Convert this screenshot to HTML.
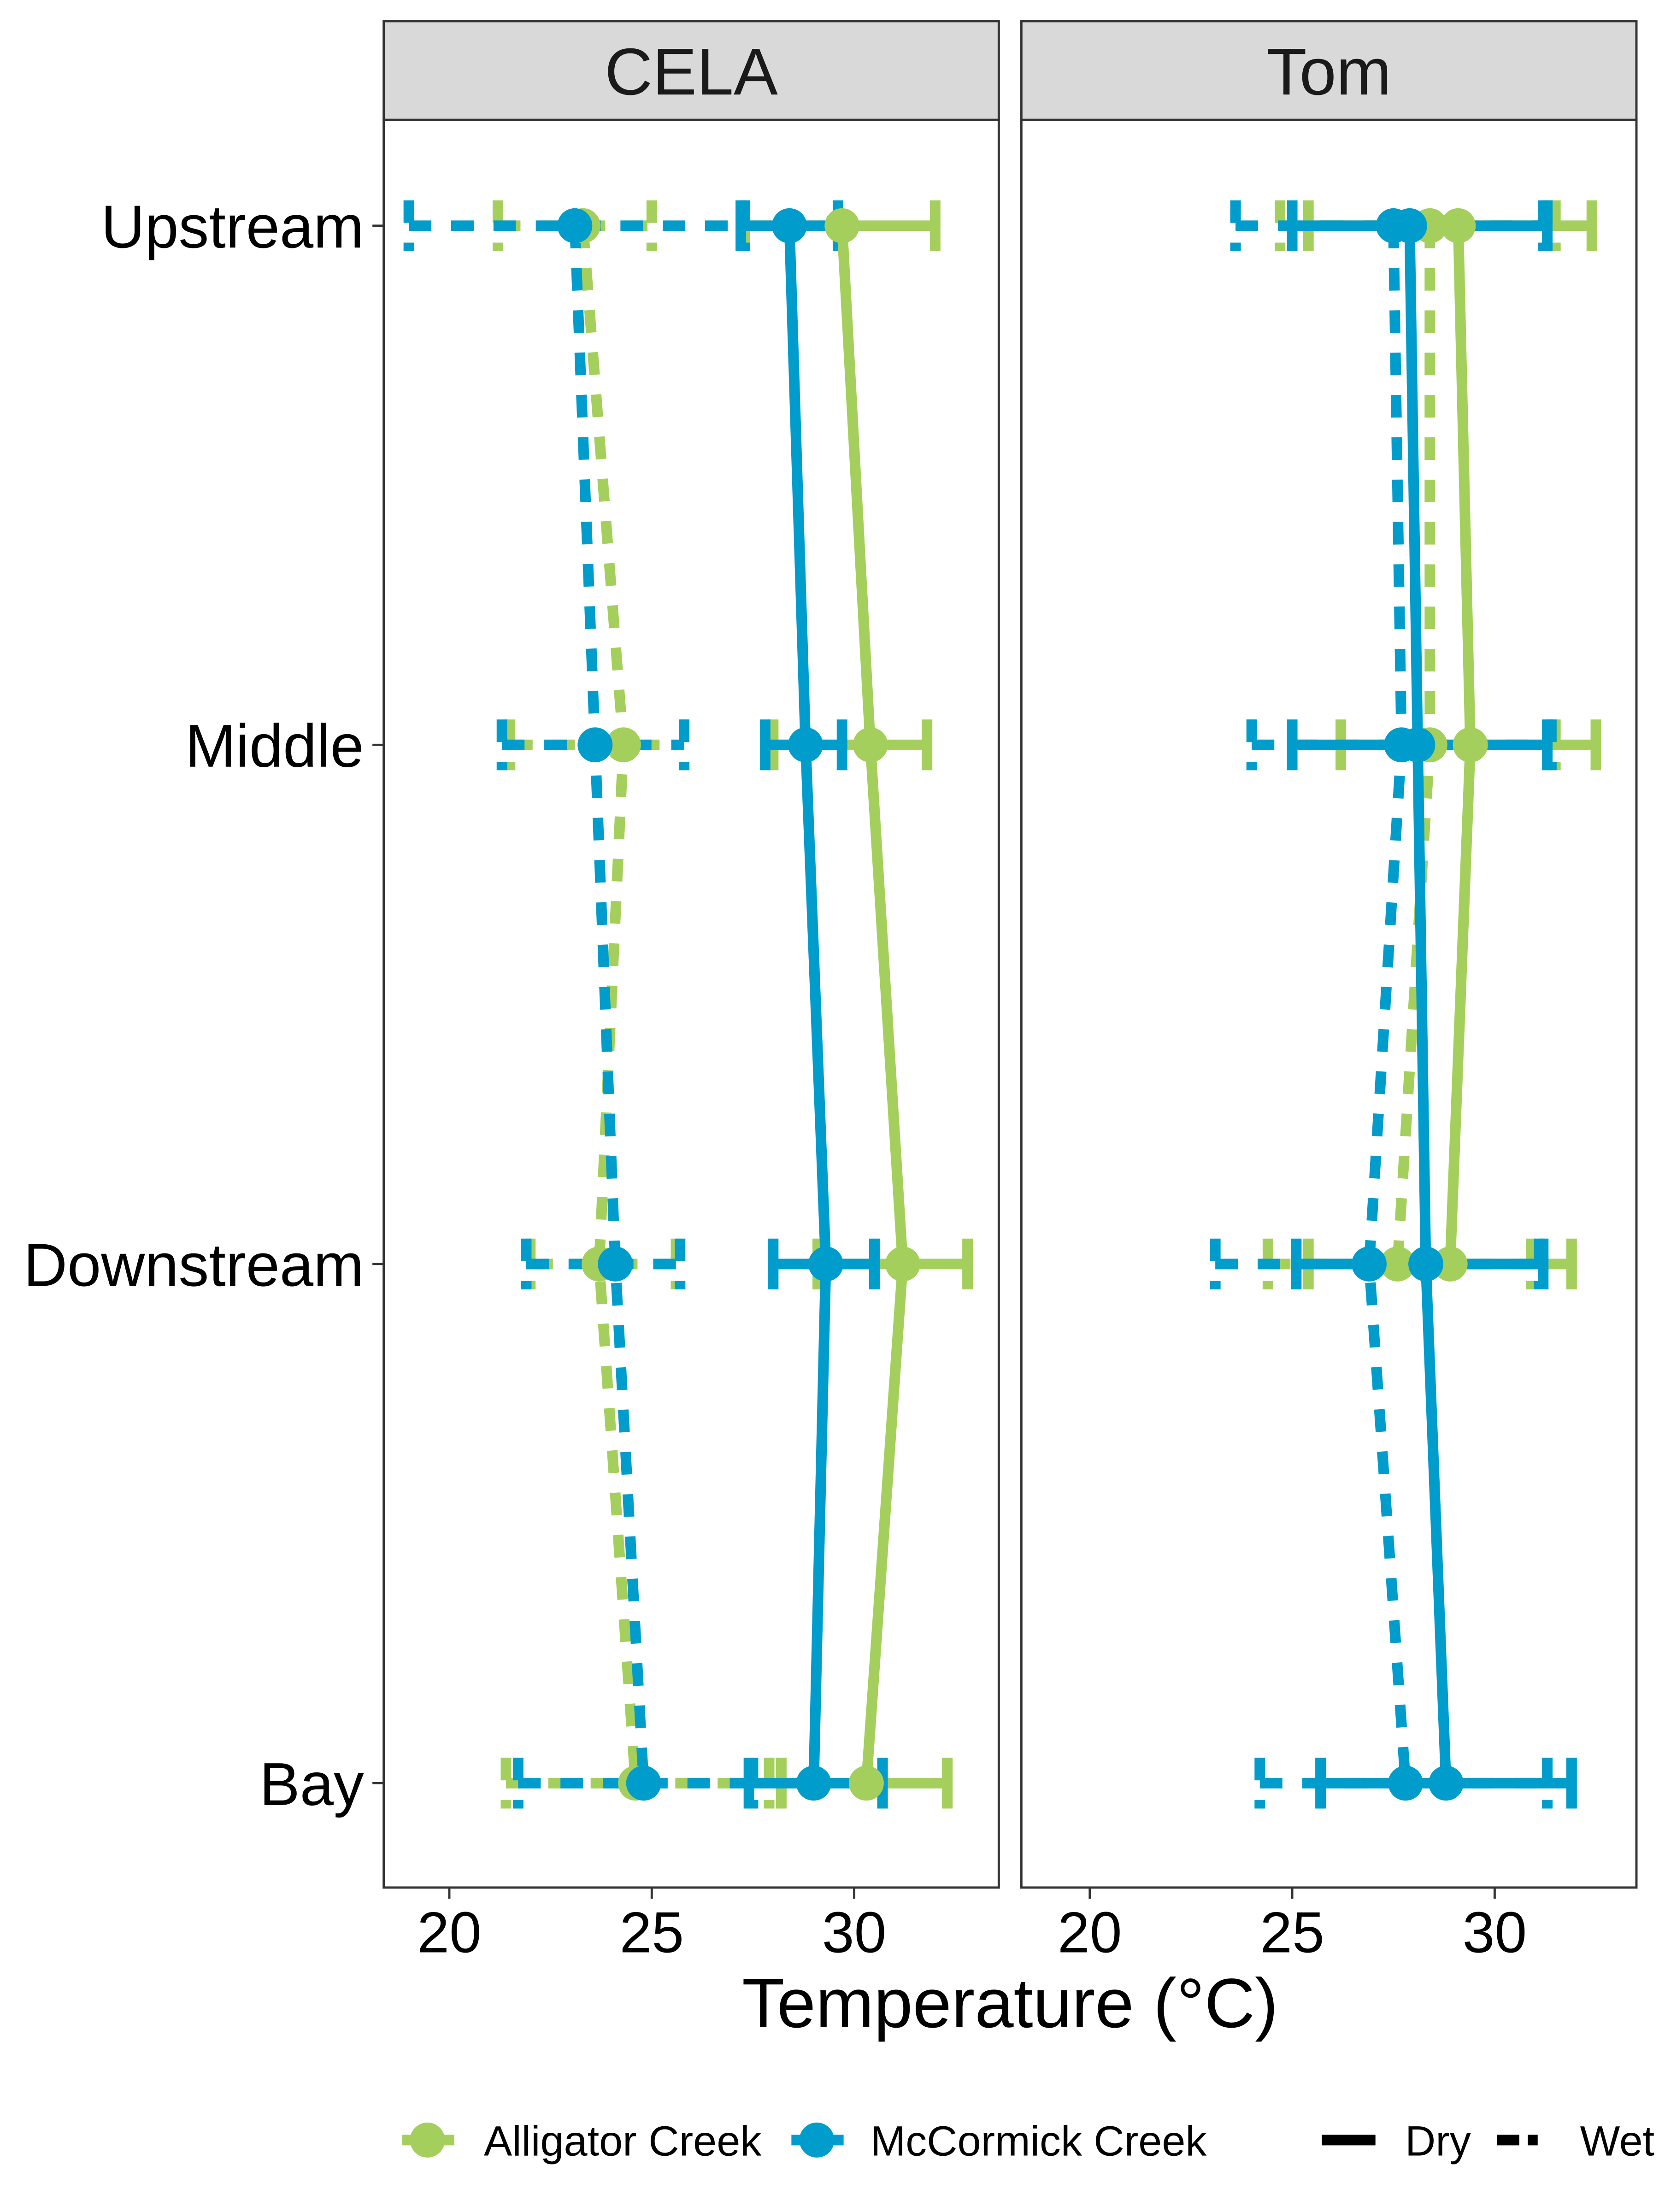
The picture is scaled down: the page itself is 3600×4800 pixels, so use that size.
<!DOCTYPE html>
<html><head><meta charset="utf-8"><style>
html,body{margin:0;padding:0;background:#fff;}
svg{display:block;}
text{font-family:"Liberation Sans",sans-serif;}
</style></head><body>
<svg id="chart" width="3600" height="4800" viewBox="0 0 1176 1568" preserveAspectRatio="none" xmlns="http://www.w3.org/2000/svg">
<rect x="0" y="0" width="1176" height="1568" fill="#fff"/>
<g id="panels"></g>
<text x="716" y="1437" font-size="49.5" text-anchor="middle" fill="#000">Temperature (°C)</text>
<g>
  <line x1="285" y1="1517" x2="322" y2="1517" stroke="#a5cf5c" stroke-width="7.5"/>
  <circle cx="303" cy="1517" r="12.4" fill="#a5cf5c"/>
  <text x="343" y="1528" font-size="30">Alligator Creek</text>
  <line x1="561" y1="1517" x2="598" y2="1517" stroke="#009ccc" stroke-width="7.5"/>
  <circle cx="579" cy="1517" r="12.4" fill="#009ccc"/>
  <text x="617" y="1528" font-size="30">McCormick Creek</text>
  <line x1="937" y1="1517" x2="975" y2="1517" stroke="#000" stroke-width="7.5"/>
  <text x="996" y="1528" font-size="30">Dry</text>
  <line x1="1061" y1="1517" x2="1090" y2="1517" stroke="#000" stroke-width="7.5" stroke-dasharray="16 6"/>
  <text x="1120" y="1528" font-size="30">Wet</text>
</g>
</svg>
<script>
const sites = ["Upstream","Middle","Downstream","Bay"];
const facets = ["CELA","Tom"];
const xTicks = [20,25,30];
// CELA series: mean, low, high per site (null = missing)
const celaAllDryMean = [29.7,30.4,31.2,30.3];
const celaAllDryLow  = [27.3,28.0,29.1,28.2];
const celaAllDryHigh = [32.0,31.8,32.8,32.3];
const celaAllWetMean = [23.3,24.3,23.7,24.6];
const celaAllWetLow  = [21.2,21.5,22.0,21.4];
const celaAllWetHigh = [25.0,25.8,25.6,27.9];
const celaMcDryMean  = [28.4,28.8,29.3,29.0];
const celaMcDryLow   = [27.2,27.8,28.0,27.4];
const celaMcDryHigh  = [29.6,29.7,30.5,30.7];
const celaMcWetMean  = [23.1,23.6,24.1,24.8];
const celaMcWetLow   = [19.0,21.3,21.9,21.7];
const celaMcWetHigh  = [27.3,25.8,25.7,27.5];
// Tom series
const tomAllDryMean = [29.1,29.4,28.9,null];
const tomAllDryLow  = [25.4,26.2,25.4,null];
const tomAllDryHigh = [32.4,32.5,31.9,null];
const tomAllWetMean = [28.4,28.4,27.6,null];
const tomAllWetLow  = [24.7,24.0,24.4,null];
const tomAllWetHigh = [31.5,31.5,30.9,null];
const tomMcDryMean  = [27.9,28.1,28.3,28.8];
const tomMcDryLow   = [25.0,25.0,25.1,25.7];
const tomMcDryHigh  = [31.3,31.3,31.2,31.9];
const tomMcWetMean  = [27.5,27.7,26.9,27.8];
const tomMcWetLow   = [23.6,24.0,23.1,24.2];
const tomMcWetHigh  = [31.2,31.4,31.1,31.3];

const NS="http://www.w3.org/2000/svg";
const GREEN="#a5cf5c", BLUE="#009ccc";
const panelX=[272,724], panelW=436, panelTop=85, panelBot=1338, stripTop=15;
function xScale(p,v){ const o=[318.5,772.5][p]; return o+(v-20)*28.7; }
function yScale(i){ return 160+i*368; }
function mk(tag,attrs,parent){const e=document.createElementNS(NS,tag);for(const k in attrs)e.setAttribute(k,attrs[k]);parent.appendChild(e);return e;}
const root=document.getElementById('panels');
const seriesByFacet=[
 [{n:"alligator-dry",c:GREEN,w:false,m:celaAllDryMean,l:celaAllDryLow,h:celaAllDryHigh},
  {n:"alligator-wet",c:GREEN,w:true,m:celaAllWetMean,l:celaAllWetLow,h:celaAllWetHigh},
  {n:"mccormick-dry",c:BLUE,w:false,m:celaMcDryMean,l:celaMcDryLow,h:celaMcDryHigh},
  {n:"mccormick-wet",c:BLUE,w:true,m:celaMcWetMean,l:celaMcWetLow,h:celaMcWetHigh}],
 [{n:"alligator-dry",c:GREEN,w:false,m:tomAllDryMean,l:tomAllDryLow,h:tomAllDryHigh},
  {n:"alligator-wet",c:GREEN,w:true,m:tomAllWetMean,l:tomAllWetLow,h:tomAllWetHigh},
  {n:"mccormick-dry",c:BLUE,w:false,m:tomMcDryMean,l:tomMcDryLow,h:tomMcDryHigh},
  {n:"mccormick-wet",c:BLUE,w:true,m:tomMcWetMean,l:tomMcWetLow,h:tomMcWetHigh}]
];
facets.forEach((f,p)=>{
  const g=mk('g',{},root);
  
  
  const x0=panelX[p];
  const strip=mk('rect',{x:x0,y:stripTop,width:panelW,height:panelTop-stripTop,fill:"#d9d9d9",stroke:"#333",'stroke-width':1.6},g);
  
  
  const st=mk('text',{x:x0+panelW/2,y:67,'font-size':47,'text-anchor':'middle',fill:'#1a1a1a'},g);
  st.textContent=f;
  
  
  mk('rect',{x:x0,y:panelTop,width:panelW,height:panelBot-panelTop,fill:"#fff",stroke:"#333",'stroke-width':1.6},g);
  xTicks.forEach(t=>{
    const x=xScale(p,t);
    mk('line',{x1:x,y1:panelBot,x2:x,y2:panelBot+8,stroke:'#333','stroke-width':1.6},g);
    const tl=mk('text',{x:x,y:panelBot+46,'font-size':41,'text-anchor':'middle',fill:'#000'},g);
    tl.textContent=t;
    
    
  });
  if(p===0){
    sites.forEach((s,i)=>{
      const y=yScale(i);
      mk('line',{x1:x0-8,y1:y,x2:x0,y2:y,stroke:'#333','stroke-width':1.6},g);
      const yl=mk('text',{x:x0-14,y:y+15.5,'font-size':43,'text-anchor':'end',fill:'#000'},g);
      yl.textContent=s;
      
      
    });
  }
  const ser=seriesByFacet[p];
  ser.forEach(s=>{
    s.m.forEach((v,i)=>{
      if(v===null)return;
      const y=yScale(i), xl=xScale(p,s.l[i]), xh=xScale(p,s.h[i]);
      const eg=mk('g',{stroke:s.c,'stroke-width':7.5,fill:'none','stroke-dasharray':s.w?'16 14':'none'},g);
      
      
      mk('line',{x1:xl,y1:y,x2:xh,y2:y},eg);
      mk('line',{x1:xl,y1:y-18,x2:xl,y2:y+18},eg);
      mk('line',{x1:xh,y1:y-18,x2:xh,y2:y+18},eg);
    });
  });
  ser.forEach(s=>{
    const pts=[];
    s.m.forEach((v,i)=>{ if(v!==null) pts.push(xScale(p,v)+','+yScale(i)); });
    const pl=mk('polyline',{points:pts.join(' '),fill:'none',stroke:s.c,'stroke-width':7.5,'stroke-dasharray':s.w?'16 14':'none'},g);
    
    
  });
  ser.forEach(s=>{
    s.m.forEach((v,i)=>{
      if(v===null)return;
      const c=mk('circle',{cx:xScale(p,v),cy:yScale(i),r:12.4,fill:s.c},g);
      
      
    });
  });
});
</script>
</body></html>
